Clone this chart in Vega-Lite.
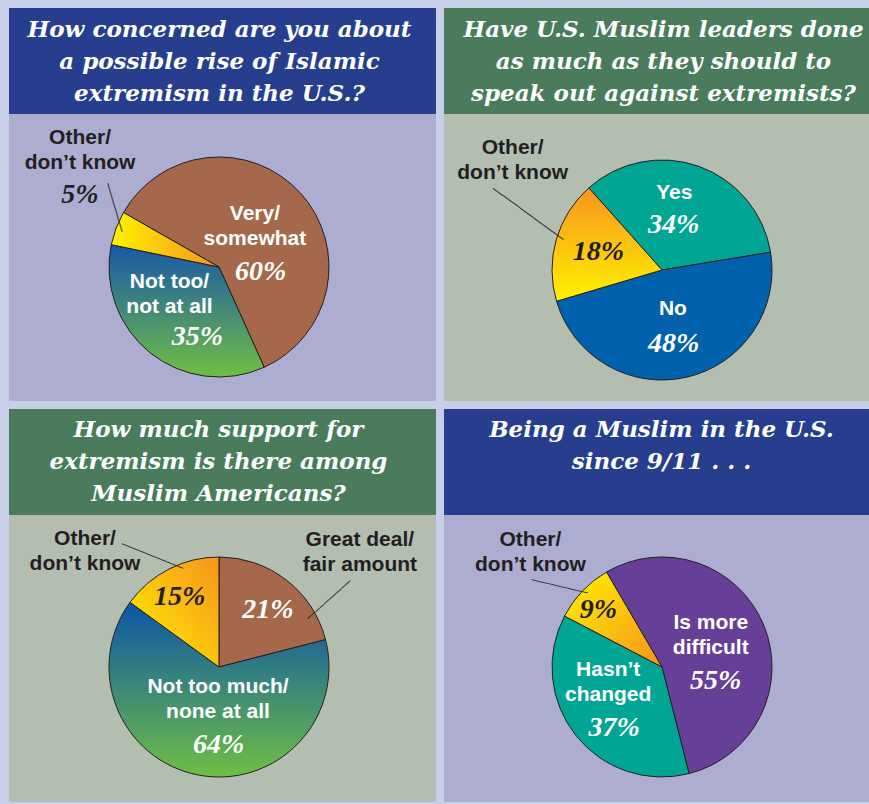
{
  "$schema": "https://vega.github.io/schema/vega-lite/v6.json",
  "background": "#c6cee8",
  "padding": {"left": 9, "top": 8, "right": 0, "bottom": 2},
  "config": {"view": {"stroke": null}},
  "spacing": 8,
  "hconcat": [
    {
      "spacing": 8,
      "vconcat": [
        {
          "spacing": 0,
          "vconcat": [
            {
              "width": 427, "height": 106,
              "view": {"fill": "#263e8d", "stroke": null},
              "data": {"values": [{"q": "How concerned are you about\na possible rise of Islamic\nextremism in the U.S.?"}]},
              "mark": {"type": "text", "font": "DejaVu Serif", "fontSize": 23, "fontWeight": "bold", "fontStyle": "italic", "fill": "#ffffff", "lineBreak": "\n", "lineHeight": 32, "align": "center", "baseline": "middle", "dx": -3, "dy": -31, "clip": true},
              "encoding": {"text": {"field": "q"}}
            },
            {
              "width": 427, "height": 287,
              "view": {"fill": "#adadd2", "stroke": null},
              "data": {"values": [
                {"i": 1, "k": "very", "name": "Very/\nsomewhat", "pct": 60, "label": "60%"},
                {"i": 2, "k": "not", "name": "Not too/\nnot at all", "pct": 35, "label": "35%"},
                {"i": 3, "k": "other", "name": "Other/\ndon’t know", "pct": 5, "label": "5%"}
              ]},
              "encoding": {
                "theta": {"field": "pct", "type": "quantitative", "stack": true, "scale": {"range": [5.2308, 11.514]}},
                "order": {"field": "i", "type": "quantitative"},
                "detail": {"field": "k", "type": "nominal"}
              },
              "layer": [
                {"mark": {"type": "arc", "outerRadius": 110, "stroke": "#231f20", "strokeWidth": 1, "xOffset": -3.5, "yOffset": 9.5},
                 "encoding": {"fill": {"condition": [
                   {"test": "datum.k === 'not'", "value": {"gradient": "linear", "x1": 0, "y1": 0, "x2": 0, "y2": 1, "stops": [{"offset": 0, "color": "#1857a8"}, {"offset": 1, "color": "#6fbe44"}]}},
                   {"test": "datum.k === 'other'", "value": {"gradient": "linear", "x1": 0, "y1": 0.5, "x2": 1, "y2": 0.5, "stops": [{"offset": 0, "color": "#fff200"}, {"offset": 1, "color": "#f7941d"}]}}
                 ], "value": "#a5684b"}}},
                {"mark": {"type": "text", "radius": 54, "dx": -4, "dy": -16.5, "xOffset": -3.5, "yOffset": 9.5, "font": "Liberation Sans", "fontSize": 21, "fontWeight": "bold", "fill": "#ffffff", "lineBreak": "\n", "lineHeight": 25, "align": "center", "baseline": "middle", "clip": true},
                 "encoding": {"text": {"field": "name"}, "opacity": {"condition": {"test": "datum.k === 'very'", "value": 1}, "value": 0}}},
                {"mark": {"type": "text", "radius": 28, "dx": 21, "dy": 24, "xOffset": -3.5, "yOffset": 9.5, "font": "Liberation Serif", "fontSize": 28, "fontWeight": "bold", "fontStyle": "italic", "fill": "#ffffff", "align": "center", "baseline": "middle", "clip": true},
                 "encoding": {"text": {"field": "label"}, "opacity": {"condition": {"test": "datum.k === 'very'", "value": 1}, "value": 0}}},
                {"mark": {"type": "text", "radius": 52, "dx": -17, "dy": -25.5, "xOffset": -3.5, "yOffset": 9.5, "font": "Liberation Sans", "fontSize": 21, "fontWeight": "bold", "fill": "#ffffff", "lineBreak": "\n", "lineHeight": 25, "align": "center", "baseline": "middle", "clip": true},
                 "encoding": {"text": {"field": "name"}, "opacity": {"condition": {"test": "datum.k === 'not'", "value": 1}, "value": 0}}},
                {"mark": {"type": "text", "radius": 68, "dx": 21, "dy": 17, "xOffset": -3.5, "yOffset": 9.5, "font": "Liberation Serif", "fontSize": 28, "fontWeight": "bold", "fontStyle": "italic", "fill": "#ffffff", "align": "center", "baseline": "middle", "clip": true},
                 "encoding": {"text": {"field": "label"}, "opacity": {"condition": {"test": "datum.k === 'not'", "value": 1}, "value": 0}}},
                {"mark": {"type": "text", "radius": 171, "dx": 21, "dy": -68.5, "xOffset": -3.5, "yOffset": 9.5, "font": "Liberation Sans", "fontSize": 21, "fontWeight": "bold", "fill": "#231f20", "lineBreak": "\n", "lineHeight": 25, "align": "center", "baseline": "middle", "clip": true},
                 "encoding": {"text": {"field": "name"}, "opacity": {"condition": {"test": "datum.k === 'other'", "value": 1}, "value": 0}}},
                {"mark": {"type": "text", "radius": 155, "dx": 6, "dy": -17, "xOffset": -3.5, "yOffset": 9.5, "font": "Liberation Serif", "fontSize": 28, "fontWeight": "bold", "fontStyle": "italic", "fill": "#231f20", "align": "center", "baseline": "middle", "clip": true},
                 "encoding": {"text": {"field": "label"}, "opacity": {"condition": {"test": "datum.k === 'other'", "value": 1}, "value": 0}}},
                {"mark": {"type": "text", "radius": 120, "angle": 73.4, "dx": -14, "dy": -12, "xOffset": -3.5, "yOffset": 9.5, "font": "DejaVu Sans Mono", "fontSize": 10.5, "fill": "#231f20", "align": "center", "baseline": "middle", "clip": true},
                 "encoding": {"text": {"value": "────────"}, "opacity": {"condition": {"test": "datum.k === 'other'", "value": 1}, "value": 0}}}
              ]
            }
          ]
        },
        {
          "spacing": 0,
          "vconcat": [
            {
              "width": 427, "height": 106,
              "view": {"fill": "#4a7b5a", "stroke": null},
              "data": {"values": [{"q": "How much support for\nextremism is there among\nMuslim Americans?"}]},
              "mark": {"type": "text", "font": "DejaVu Serif", "fontSize": 23, "fontWeight": "bold", "fontStyle": "italic", "fill": "#ffffff", "lineBreak": "\n", "lineHeight": 32, "align": "center", "baseline": "middle", "dx": -4, "dy": -32, "clip": true},
              "encoding": {"text": {"field": "q"}}
            },
            {
              "width": 427, "height": 287,
              "view": {"fill": "#b3beb1", "stroke": null},
              "data": {"values": [
                {"i": 1, "k": "great", "name": "Great deal/\nfair amount", "pct": 21, "label": "21%"},
                {"i": 2, "k": "notmuch", "name": "Not too much/\nnone at all", "pct": 64, "label": "64%"},
                {"i": 3, "k": "other", "name": "Other/\ndon’t know", "pct": 15, "label": "15%"}
              ]},
              "encoding": {
                "theta": {"field": "pct", "type": "quantitative", "stack": true, "scale": {"range": [0, 6.2832]}},
                "order": {"field": "i", "type": "quantitative"},
                "detail": {"field": "k", "type": "nominal"}
              },
              "layer": [
                {"mark": {"type": "arc", "outerRadius": 110, "stroke": "#231f20", "strokeWidth": 1, "xOffset": -3.5, "yOffset": 8.5},
                 "encoding": {"fill": {"condition": [
                   {"test": "datum.k === 'notmuch'", "value": {"gradient": "linear", "x1": 0, "y1": 0, "x2": 0, "y2": 1, "stops": [{"offset": 0, "color": "#0b55a7"}, {"offset": 1, "color": "#6fbe44"}]}},
                   {"test": "datum.k === 'other'", "value": {"gradient": "linear", "x1": 0, "y1": 1, "x2": 1, "y2": 0, "stops": [{"offset": 0, "color": "#fff200"}, {"offset": 1, "color": "#f7941d"}]}}
                 ], "value": "#a5684b"}}},
                {"mark": {"type": "text", "radius": 176, "dx": 33, "dy": 12.5, "xOffset": -3.5, "yOffset": 8.5, "font": "Liberation Sans", "fontSize": 21, "fontWeight": "bold", "fill": "#231f20", "lineBreak": "\n", "lineHeight": 25, "align": "center", "baseline": "middle", "clip": true},
                 "encoding": {"text": {"field": "name"}, "opacity": {"condition": {"test": "datum.k === 'great'", "value": 1}, "value": 0}}},
                {"mark": {"type": "text", "radius": 75, "dx": 3, "dy": 2, "xOffset": -3.5, "yOffset": 8.5, "font": "Liberation Serif", "fontSize": 28, "fontWeight": "bold", "fontStyle": "italic", "fill": "#ffffff", "align": "center", "baseline": "middle", "clip": true},
                 "encoding": {"text": {"field": "label"}, "opacity": {"condition": {"test": "datum.k === 'great'", "value": 1}, "value": 0}}},
                {"mark": {"type": "text", "radius": 120, "angle": -41.7, "dx": 9, "dy": 45, "xOffset": -3.5, "yOffset": 8.5, "font": "DejaVu Sans Mono", "fontSize": 9.5, "fill": "#231f20", "align": "center", "baseline": "middle", "clip": true},
                 "encoding": {"text": {"value": "──────────"}, "opacity": {"condition": {"test": "datum.k === 'great'", "value": 1}, "value": 0}}},
                {"mark": {"type": "text", "radius": 32, "dx": 5, "dy": -11.5, "xOffset": -3.5, "yOffset": 8.5, "font": "Liberation Sans", "fontSize": 21, "fontWeight": "bold", "fill": "#ffffff", "lineBreak": "\n", "lineHeight": 25, "align": "center", "baseline": "middle", "clip": true},
                 "encoding": {"text": {"field": "name"}, "opacity": {"condition": {"test": "datum.k === 'notmuch'", "value": 1}, "value": 0}}},
                {"mark": {"type": "text", "radius": 77, "dx": 14, "dy": 2, "xOffset": -3.5, "yOffset": 8.5, "font": "Liberation Serif", "fontSize": 28, "fontWeight": "bold", "fontStyle": "italic", "fill": "#ffffff", "align": "center", "baseline": "middle", "clip": true},
                 "encoding": {"text": {"field": "label"}, "opacity": {"condition": {"test": "datum.k === 'notmuch'", "value": 1}, "value": 0}}},
                {"mark": {"type": "text", "radius": 163, "dx": -60, "dy": 17.5, "xOffset": -3.5, "yOffset": 8.5, "font": "Liberation Sans", "fontSize": 21, "fontWeight": "bold", "fill": "#231f20", "lineBreak": "\n", "lineHeight": 25, "align": "center", "baseline": "middle", "clip": true},
                 "encoding": {"text": {"field": "name"}, "opacity": {"condition": {"test": "datum.k === 'other'", "value": 1}, "value": 0}}},
                {"mark": {"type": "text", "radius": 80, "dx": -3, "dy": 1, "xOffset": -3.5, "yOffset": 8.5, "font": "Liberation Serif", "fontSize": 28, "fontWeight": "bold", "fontStyle": "italic", "fill": "#231f20", "align": "center", "baseline": "middle", "clip": true},
                 "encoding": {"text": {"field": "label"}, "opacity": {"condition": {"test": "datum.k === 'other'", "value": 1}, "value": 0}}},
                {"mark": {"type": "text", "radius": 129, "angle": 21.9, "dx": -6, "dy": 7, "xOffset": -3.5, "yOffset": 8.5, "font": "DejaVu Sans Mono", "fontSize": 10, "fill": "#231f20", "align": "center", "baseline": "middle", "clip": true},
                 "encoding": {"text": {"value": "───────────"}, "opacity": {"condition": {"test": "datum.k === 'other'", "value": 1}, "value": 0}}}
              ]
            }
          ]
        }
      ]
    },
    {
      "spacing": 8,
      "vconcat": [
        {
          "spacing": 0,
          "vconcat": [
            {
              "width": 425, "height": 106,
              "view": {"fill": "#4a7b5a", "stroke": null},
              "data": {"values": [{"q": "Have U.S. Muslim leaders done\nas much as they should to\nspeak out against extremists?"}]},
              "mark": {"type": "text", "font": "DejaVu Serif", "fontSize": 23, "fontWeight": "bold", "fontStyle": "italic", "fill": "#ffffff", "lineBreak": "\n", "lineHeight": 32, "align": "center", "baseline": "middle", "dx": 7, "dy": -31, "clip": true},
              "encoding": {"text": {"field": "q"}}
            },
            {
              "width": 425, "height": 287,
              "view": {"fill": "#b3beb1", "stroke": null},
              "data": {"values": [
                {"i": 1, "k": "yes", "name": "Yes", "pct": 34, "label": "34%"},
                {"i": 2, "k": "no", "name": "No", "pct": 48, "label": "48%"},
                {"i": 3, "k": "other", "name": "Other/\ndon’t know", "pct": 18, "label": "18%"}
              ]},
              "encoding": {
                "theta": {"field": "pct", "type": "quantitative", "stack": true, "scale": {"range": [5.5554, 11.8386]}},
                "order": {"field": "i", "type": "quantitative"},
                "detail": {"field": "k", "type": "nominal"}
              },
              "layer": [
                {"mark": {"type": "arc", "outerRadius": 110, "stroke": "#231f20", "strokeWidth": 1, "xOffset": 5.5, "yOffset": 12.5},
                 "encoding": {"fill": {"condition": [
                   {"test": "datum.k === 'yes'", "value": "#00a693"},
                   {"test": "datum.k === 'other'", "value": {"gradient": "linear", "x1": 0, "y1": 0, "x2": 0, "y2": 1, "stops": [{"offset": 0, "color": "#f7941d"}, {"offset": 1, "color": "#fff200"}]}}
                 ], "value": "#0061ad"}}},
                {"mark": {"type": "text", "radius": 76, "dx": -13, "dy": -5, "xOffset": 5.5, "yOffset": 12.5, "font": "Liberation Sans", "fontSize": 21, "fontWeight": "bold", "fill": "#ffffff", "lineBreak": "\n", "lineHeight": 25, "align": "center", "baseline": "middle", "clip": true},
                 "encoding": {"text": {"field": "name"}, "opacity": {"condition": {"test": "datum.k === 'yes'", "value": 1}, "value": 0}}},
                {"mark": {"type": "text", "radius": 47, "dx": -4, "dy": -1, "xOffset": 5.5, "yOffset": 12.5, "font": "Liberation Serif", "fontSize": 28, "fontWeight": "bold", "fontStyle": "italic", "fill": "#ffffff", "align": "center", "baseline": "middle", "clip": true},
                 "encoding": {"text": {"field": "label"}, "opacity": {"condition": {"test": "datum.k === 'yes'", "value": 1}, "value": 0}}},
                {"mark": {"type": "text", "radius": 40, "dx": 2, "dy": 0, "xOffset": 5.5, "yOffset": 12.5, "font": "Liberation Sans", "fontSize": 21, "fontWeight": "bold", "fill": "#ffffff", "lineBreak": "\n", "lineHeight": 25, "align": "center", "baseline": "middle", "clip": true},
                 "encoding": {"text": {"field": "name"}, "opacity": {"condition": {"test": "datum.k === 'no'", "value": 1}, "value": 0}}},
                {"mark": {"type": "text", "radius": 75, "dx": -5, "dy": 1, "xOffset": 5.5, "yOffset": 12.5, "font": "Liberation Serif", "fontSize": 28, "fontWeight": "bold", "fontStyle": "italic", "fill": "#ffffff", "align": "center", "baseline": "middle", "clip": true},
                 "encoding": {"text": {"field": "label"}, "opacity": {"condition": {"test": "datum.k === 'no'", "value": 1}, "value": 0}}},
                {"mark": {"type": "text", "radius": 174, "dx": 18, "dy": -74.5, "xOffset": 5.5, "yOffset": 12.5, "font": "Liberation Sans", "fontSize": 21, "fontWeight": "bold", "fill": "#231f20", "lineBreak": "\n", "lineHeight": 25, "align": "center", "baseline": "middle", "clip": true},
                 "encoding": {"text": {"field": "name"}, "opacity": {"condition": {"test": "datum.k === 'other'", "value": 1}, "value": 0}}},
                {"mark": {"type": "text", "radius": 66, "dx": 0, "dy": 0, "xOffset": 5.5, "yOffset": 12.5, "font": "Liberation Serif", "fontSize": 28, "fontWeight": "bold", "fontStyle": "italic", "fill": "#231f20", "align": "center", "baseline": "middle", "clip": true},
                 "encoding": {"text": {"field": "label"}, "opacity": {"condition": {"test": "datum.k === 'other'", "value": 1}, "value": 0}}},
                {"mark": {"type": "text", "radius": 145, "angle": 36.1, "dx": -5, "dy": -16, "xOffset": 5.5, "yOffset": 12.5, "font": "DejaVu Sans Mono", "fontSize": 10.3, "fill": "#231f20", "align": "center", "baseline": "middle", "clip": true},
                 "encoding": {"text": {"value": "──────────────"}, "opacity": {"condition": {"test": "datum.k === 'other'", "value": 1}, "value": 0}}}
              ]
            }
          ]
        },
        {
          "spacing": 0,
          "vconcat": [
            {
              "width": 425, "height": 106,
              "view": {"fill": "#263e8d", "stroke": null},
              "data": {"values": [{"q": "Being a Muslim in the U.S.\nsince 9/11 . . ."}]},
              "mark": {"type": "text", "font": "DejaVu Serif", "fontSize": 23, "fontWeight": "bold", "fontStyle": "italic", "fill": "#ffffff", "lineBreak": "\n", "lineHeight": 32, "align": "center", "baseline": "middle", "dx": 5, "dy": -32, "clip": true},
              "encoding": {"text": {"field": "q"}}
            },
            {
              "width": 425, "height": 287,
              "view": {"fill": "#adadd2", "stroke": null},
              "data": {"values": [
                {"i": 1, "k": "harder", "name": "Is more\ndifficult", "pct": 55, "label": "55%"},
                {"i": 2, "k": "same", "name": "Hasn’t\nchanged", "pct": 37, "label": "37%"},
                {"i": 3, "k": "other", "name": "Other/\ndon’t know", "pct": 9, "label": "9%"}
              ]},
              "encoding": {
                "theta": {"field": "pct", "type": "quantitative", "stack": true, "scale": {"range": [5.7543, 12.0375]}},
                "order": {"field": "i", "type": "quantitative"},
                "detail": {"field": "k", "type": "nominal"}
              },
              "layer": [
                {"mark": {"type": "arc", "outerRadius": 110, "stroke": "#231f20", "strokeWidth": 1, "xOffset": 5.5, "yOffset": 8.5},
                 "encoding": {"fill": {"condition": [
                   {"test": "datum.k === 'same'", "value": "#00a693"},
                   {"test": "datum.k === 'other'", "value": {"gradient": "linear", "x1": 0, "y1": 0, "x2": 1, "y2": 1, "stops": [{"offset": 0, "color": "#fff200"}, {"offset": 1, "color": "#f7941d"}]}}
                 ], "value": "#653f98"}}},
                {"mark": {"type": "text", "radius": 57, "dx": -4, "dy": -22.5, "xOffset": 5.5, "yOffset": 8.5, "font": "Liberation Sans", "fontSize": 21, "fontWeight": "bold", "fill": "#ffffff", "lineBreak": "\n", "lineHeight": 25, "align": "center", "baseline": "middle", "clip": true},
                 "encoding": {"text": {"field": "name"}, "opacity": {"condition": {"test": "datum.k === 'harder'", "value": 1}, "value": 0}}},
                {"mark": {"type": "text", "radius": 44, "dx": 13, "dy": 31, "xOffset": 5.5, "yOffset": 8.5, "font": "Liberation Serif", "fontSize": 28, "fontWeight": "bold", "fontStyle": "italic", "fill": "#ffffff", "align": "center", "baseline": "middle", "clip": true},
                 "encoding": {"text": {"field": "label"}, "opacity": {"condition": {"test": "datum.k === 'harder'", "value": 1}, "value": 0}}},
                {"mark": {"type": "text", "radius": 52, "dx": -13, "dy": -29.5, "xOffset": 5.5, "yOffset": 8.5, "font": "Liberation Sans", "fontSize": 21, "fontWeight": "bold", "fill": "#ffffff", "lineBreak": "\n", "lineHeight": 25, "align": "center", "baseline": "middle", "clip": true},
                 "encoding": {"text": {"field": "name"}, "opacity": {"condition": {"test": "datum.k === 'same'", "value": 1}, "value": 0}}},
                {"mark": {"type": "text", "radius": 75, "dx": 11, "dy": 14, "xOffset": 5.5, "yOffset": 8.5, "font": "Liberation Serif", "fontSize": 28, "fontWeight": "bold", "fontStyle": "italic", "fill": "#ffffff", "align": "center", "baseline": "middle", "clip": true},
                 "encoding": {"text": {"field": "label"}, "opacity": {"condition": {"test": "datum.k === 'same'", "value": 1}, "value": 0}}},
                {"mark": {"type": "text", "radius": 175, "dx": -5, "dy": -6.5, "xOffset": 5.5, "yOffset": 8.5, "font": "Liberation Sans", "fontSize": 21, "fontWeight": "bold", "fill": "#231f20", "lineBreak": "\n", "lineHeight": 25, "align": "center", "baseline": "middle", "clip": true},
                 "encoding": {"text": {"field": "name"}, "opacity": {"condition": {"test": "datum.k === 'other'", "value": 1}, "value": 0}}},
                {"mark": {"type": "text", "radius": 85, "dx": -2, "dy": 2, "xOffset": 5.5, "yOffset": 8.5, "font": "Liberation Serif", "fontSize": 28, "fontWeight": "bold", "fontStyle": "italic", "fill": "#231f20", "align": "center", "baseline": "middle", "clip": true},
                 "encoding": {"text": {"field": "label"}, "opacity": {"condition": {"test": "datum.k === 'other'", "value": 1}, "value": 0}}},
                {"mark": {"type": "text", "radius": 130, "angle": 13.4, "dx": -6, "dy": 11, "xOffset": 5.5, "yOffset": 8.5, "font": "DejaVu Sans Mono", "fontSize": 9.6, "fill": "#231f20", "align": "center", "baseline": "middle", "clip": true},
                 "encoding": {"text": {"value": "──────────"}, "opacity": {"condition": {"test": "datum.k === 'other'", "value": 1}, "value": 0}}}
              ]
            }
          ]
        }
      ]
    }
  ]
}
